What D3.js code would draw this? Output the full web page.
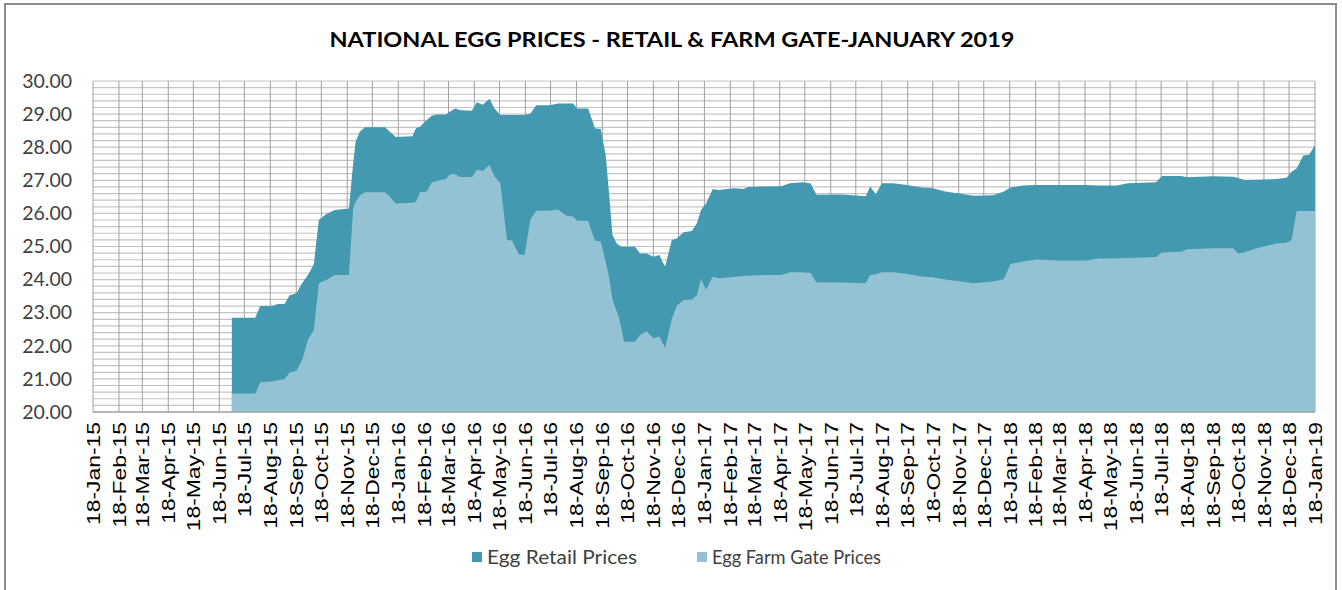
<!DOCTYPE html>
<html>
<head>
<meta charset="utf-8">
<script src="https://cdn.jsdelivr.net/npm/d3@7/dist/d3.min.js"></script>
<style>
  body { margin: 0; background: #fff; }
  svg { display: block; }
</style>
</head>
<body>
<div id="chart"></div>
<script>
// data (weekly-ish readings, only where the shape changes)
const dates = [
  "2015-07-03","2015-07-31","2015-08-06","2015-08-20","2015-08-27","2015-09-04","2015-09-10","2015-09-18",
  "2015-09-25","2015-10-02","2015-10-09","2015-10-15","2015-10-24","2015-11-03","2015-11-20","2015-11-25",
  "2015-11-28","2015-12-03","2015-12-09","2016-01-02","2016-01-08","2016-01-15","2016-02-04","2016-02-08",
  "2016-02-13","2016-02-21","2016-02-27","2016-03-04","2016-03-15","2016-03-20","2016-03-26","2016-04-01",
  "2016-04-15","2016-04-21","2016-04-28","2016-05-06","2016-05-12","2016-05-19","2016-05-27","2016-06-02",
  "2016-06-10","2016-06-17","2016-06-24","2016-07-01","2016-07-17","2016-07-27","2016-08-06","2016-08-14",
  "2016-08-19","2016-09-01","2016-09-09","2016-09-16","2016-09-22","2016-09-27","2016-09-30","2016-10-05",
  "2016-10-07","2016-10-11","2016-10-14","2016-10-27","2016-11-02","2016-11-10","2016-11-18","2016-11-25",
  "2016-12-02","2016-12-10","2016-12-16","2016-12-24","2017-01-03","2017-01-09","2017-01-14","2017-01-20",
  "2017-01-28","2017-02-04","2017-02-22","2017-03-06","2017-03-11","2017-03-29","2017-04-20","2017-04-30",
  "2017-05-16","2017-05-25","2017-06-01","2017-07-01","2017-07-30","2017-08-04","2017-08-11","2017-08-18",
  "2017-09-01","2017-09-17","2017-10-05","2017-10-17","2017-11-02","2017-11-16","2017-12-06","2017-12-29",
  "2018-01-11","2018-01-19","2018-02-03","2018-02-19","2018-03-17","2018-04-20","2018-05-04","2018-05-26",
  "2018-06-08","2018-07-12","2018-07-19","2018-08-11","2018-08-18","2018-09-18","2018-10-12","2018-10-18",
  "2018-10-26","2018-11-09","2018-12-03","2018-12-15","2018-12-21","2018-12-27","2019-01-04","2019-01-11",
  "2019-01-18"
];

const retailPrices = [
  22.85,22.85,23.20,23.20,23.26,23.26,23.53,23.58,
  23.89,24.14,24.46,25.80,25.98,26.10,26.15,27.50,
  28.17,28.47,28.60,28.60,28.47,28.31,28.33,28.57,
  28.62,28.82,28.95,28.99,28.99,29.08,29.17,29.12,
  29.10,29.36,29.28,29.46,29.17,28.97,28.97,28.97,
  28.97,28.97,29.02,29.27,29.27,29.32,29.32,29.32,
  29.17,29.17,28.57,28.55,27.76,26.30,25.35,25.10,
  25.05,24.99,24.99,24.99,24.79,24.79,24.69,24.74,
  24.39,25.20,25.24,25.43,25.47,25.70,26.10,26.30,
  26.74,26.71,26.76,26.74,26.80,26.81,26.82,26.91,
  26.94,26.90,26.56,26.57,26.52,26.81,26.58,26.91,
  26.91,26.86,26.78,26.77,26.66,26.61,26.53,26.55,
  26.66,26.78,26.84,26.86,26.86,26.86,26.84,26.84,
  26.91,26.94,27.13,27.13,27.09,27.12,27.11,27.07,
  27.01,27.02,27.04,27.08,27.26,27.36,27.75,27.77,
  28.07
];

const farmGatePrices = [
  20.56,20.56,20.90,20.92,20.96,20.99,21.19,21.24,
  21.57,22.18,22.48,23.89,23.99,24.14,24.14,26.15,
  26.35,26.54,26.64,26.64,26.50,26.30,26.32,26.35,
  26.64,26.66,26.93,26.98,27.05,27.18,27.18,27.10,
  27.10,27.32,27.28,27.46,27.12,26.91,25.20,25.18,
  24.76,24.74,25.82,26.08,26.08,26.12,25.93,25.91,
  25.78,25.78,25.18,25.15,24.54,23.94,23.40,23.05,
  22.93,22.50,22.12,22.12,22.33,22.43,22.23,22.28,
  21.94,22.80,23.21,23.38,23.40,23.53,24.02,23.69,
  24.09,24.04,24.08,24.11,24.12,24.14,24.14,24.22,
  24.22,24.20,23.91,23.91,23.89,24.14,24.16,24.22,
  24.22,24.17,24.09,24.07,24.00,23.96,23.89,23.94,
  24.01,24.47,24.55,24.61,24.58,24.58,24.64,24.64,
  24.65,24.68,24.82,24.84,24.92,24.95,24.95,24.79,
  24.83,24.95,25.09,25.11,25.20,26.07,26.07,26.07,
  26.07
];

const yTicks = [20, 21, 22, 23, 24, 25, 26, 27, 28, 29, 30];
const axisStart = "2015-01-18";
const axisEnd = "2019-01-18";
const seriesNames = ["Egg Retail Prices", "Egg Farm Gate Prices"];
const chartTitle = "NATIONAL EGG PRICES - RETAIL & FARM GATE-JANUARY 2019";

// 画布
const width = 1342;
const height = 590;
const margin = { top: 81, right: 27, bottom: 178, left: 93 };
const colors = ["#4399b0", "#93c2d4"];

const parse = d3.timeParse("%Y-%m-%d");
const rows = dates.map((d, i) => ({ date: parse(d), retail: retailPrices[i], farm: farmGatePrices[i] }));

const svg = d3.select("#chart").append("svg")
  .attr("width", width)
  .attr("height", height);

// outer chart border
svg.append("rect")
  .attr("x", 5).attr("y", 4)
  .attr("width", 1331).attr("height", 600)
  .attr("fill", "#fff")
  .attr("stroke", "#8c8c8c")
  .attr("stroke-width", 2);

const x = d3.scaleTime()
  .domain([parse(axisStart), parse(axisEnd)])
  .range([margin.left, width - margin.right]);

const y = d3.scaleLinear()
  .domain([20, 30])
  .range([height - margin.bottom, margin.top]);

// monthly ticks on the 18th
const monthTicks = d3.timeMonth.range(d3.timeMonth.floor(x.domain()[0]), d3.timeMonth.offset(x.domain()[1], 1))
  .map(d => d3.timeDay.offset(d, 17))
  .filter(d => d <= x.domain()[1]);

// horizontal grid (every 0.2)
const g = svg.append("g");
g.append("g").selectAll("line")
  .data(d3.range(0, 51).map(i => 20 + i * 0.2))
  .join("line")
  .attr("x1", margin.left).attr("x2", width - margin.right)
  .attr("y1", d => y(d)).attr("y2", d => y(d))
  .attr("stroke", "#c4c4c4")
  .attr("stroke-width", 1.2);

// vertical grid at each month
g.append("g").selectAll("line")
  .data(monthTicks)
  .join("line")
  .attr("x1", d => x(d)).attr("x2", d => x(d))
  .attr("y1", y(30)).attr("y2", y(20))
  .attr("stroke", "#a0a0a0")
  .attr("stroke-width", 1);

// 面积图 - retail first, farm gate drawn over it
const area = key => d3.area()
  .x(d => x(d.date))
  .y0(y(20))
  .y1(d => y(d[key]));

g.append("path").datum(rows)
  .attr("d", area("retail"))
  .attr("fill", colors[0]);

g.append("path").datum(rows)
  .attr("d", area("farm"))
  .attr("fill", colors[1]);

// x axis line
g.append("line")
  .attr("x1", margin.left).attr("x2", width - margin.right)
  .attr("y1", y(20)).attr("y2", y(20))
  .attr("stroke", "#a6a6a6")
  .attr("stroke-width", 1.5);

// y labels
const yAxis = svg.append("g")
  .attr("transform", `translate(${margin.left - 21},0)`)
  .call(d3.axisLeft(y).tickValues(yTicks).tickFormat(d3.format(".2f")).tickSize(0));
yAxis.select(".domain").remove();
yAxis.selectAll("text")
  .attr("x", 0)
  .attr("font-family", "Lato, 'Noto Sans', sans-serif")
  .attr("font-size", 19.5)
  .attr("fill", "#404040");

// x labels, rotated
const xAxis = svg.append("g")
  .attr("transform", `translate(0,${y(20)})`)
  .call(d3.axisBottom(x).tickValues(monthTicks).tickFormat(d3.timeFormat("%d-%b-%y")).tickSize(0));
xAxis.select(".domain").remove();
xAxis.selectAll("text")
  .attr("font-family", "'Liberation Sans', Arial, sans-serif")
  .attr("font-size", 18)
  .attr("fill", "#000")
  .attr("text-anchor", "end")
  .attr("transform", "rotate(-90)")
  .attr("x", -10)
  .attr("y", 0)
  .attr("dy", "0.35em")
  .each(function() {
    const len = this.getComputedTextLength();
    d3.select(this).attr("textLength", len * 1.27).attr("lengthAdjust", "spacingAndGlyphs");
  });

// 标题
svg.append("text")
  .attr("x", 672)
  .attr("y", 47)
  .attr("text-anchor", "middle")
  .attr("font-family", "Lato, 'Noto Sans', sans-serif")
  .attr("font-weight", "bold")
  .attr("font-size", 21)
  .attr("fill", "#000")
  .attr("textLength", 685)
  .attr("lengthAdjust", "spacingAndGlyphs")
  .text(chartTitle);

// 图例
const legendX = [472, 697];
const legendWidths = [150, 169];
const legend = svg.append("g");
seriesNames.forEach((name, i) => {
  legend.append("rect")
    .attr("x", legendX[i]).attr("y", 552)
    .attr("width", 10).attr("height", 10)
    .attr("fill", colors[i]);
  legend.append("text")
    .attr("x", legendX[i] + 15)
    .attr("y", 557)
    .attr("dy", "0.35em")
    .attr("font-family", "Lato, 'Noto Sans', sans-serif")
    .attr("font-size", 19.5)
    .attr("fill", "#404040")
    .attr("textLength", legendWidths[i])
    .attr("lengthAdjust", "spacingAndGlyphs")
    .text(name);
});
</script>
</body>
</html>
